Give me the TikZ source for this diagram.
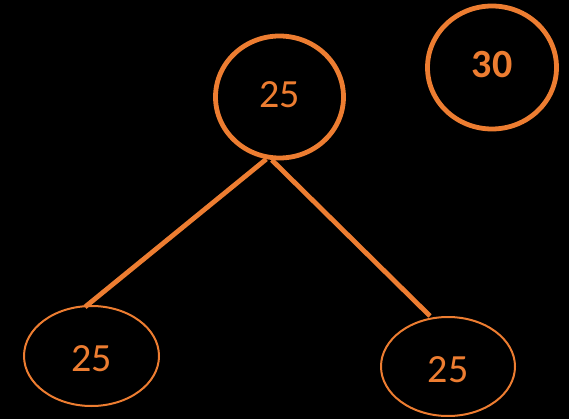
\documentclass[tikz,border=0pt]{standalone}
\usepackage{fontspec}
\setmainfont{Carlito}
\usetikzlibrary{shapes.geometric}
\definecolor{accent}{HTML}{ED7D31}
\begin{document}
\begin{tikzpicture}[x=1pt,y=-1pt,
  bignode/.style={draw=accent,ellipse,line width=4.8pt,inner sep=0pt,text=accent,font=\fontsize{40}{48}\selectfont},
  leafnode/.style={draw=accent,ellipse,line width=2pt,inner sep=0pt,text=accent,font=\fontsize{40}{48}\selectfont},
  edge/.style={draw=accent,line width=4.8pt}]
\fill[black] (0,0) rectangle (569,419);
\useasboundingbox (0,0) rectangle (569,419);
\node[bignode,minimum width=128pt,minimum height=122pt,text height=21.3pt,text depth=0pt] (top) at (279.5,97) {25};
\node[bignode,minimum width=129pt,minimum height=123pt,text height=19.5pt,text depth=0pt,font=\fontsize{40}{48}\selectfont\bfseries] (thirty) at (492,67.5) {30};
\node[leafnode,minimum width=135pt,minimum height=100pt,text height=31.5pt,text depth=0pt] (bl) at (91.5,356) {25};
\node[leafnode,minimum width=134pt,minimum height=99pt,text height=31.5pt,text depth=0pt] (br) at (448,366.5) {25};
\draw[edge] (top.258) -- ([shift={(-6.5,2)}]bl.north);
\draw[edge] (top.263) -- ([shift={(-18,0)}]br.north);
\end{tikzpicture}
\end{document}
